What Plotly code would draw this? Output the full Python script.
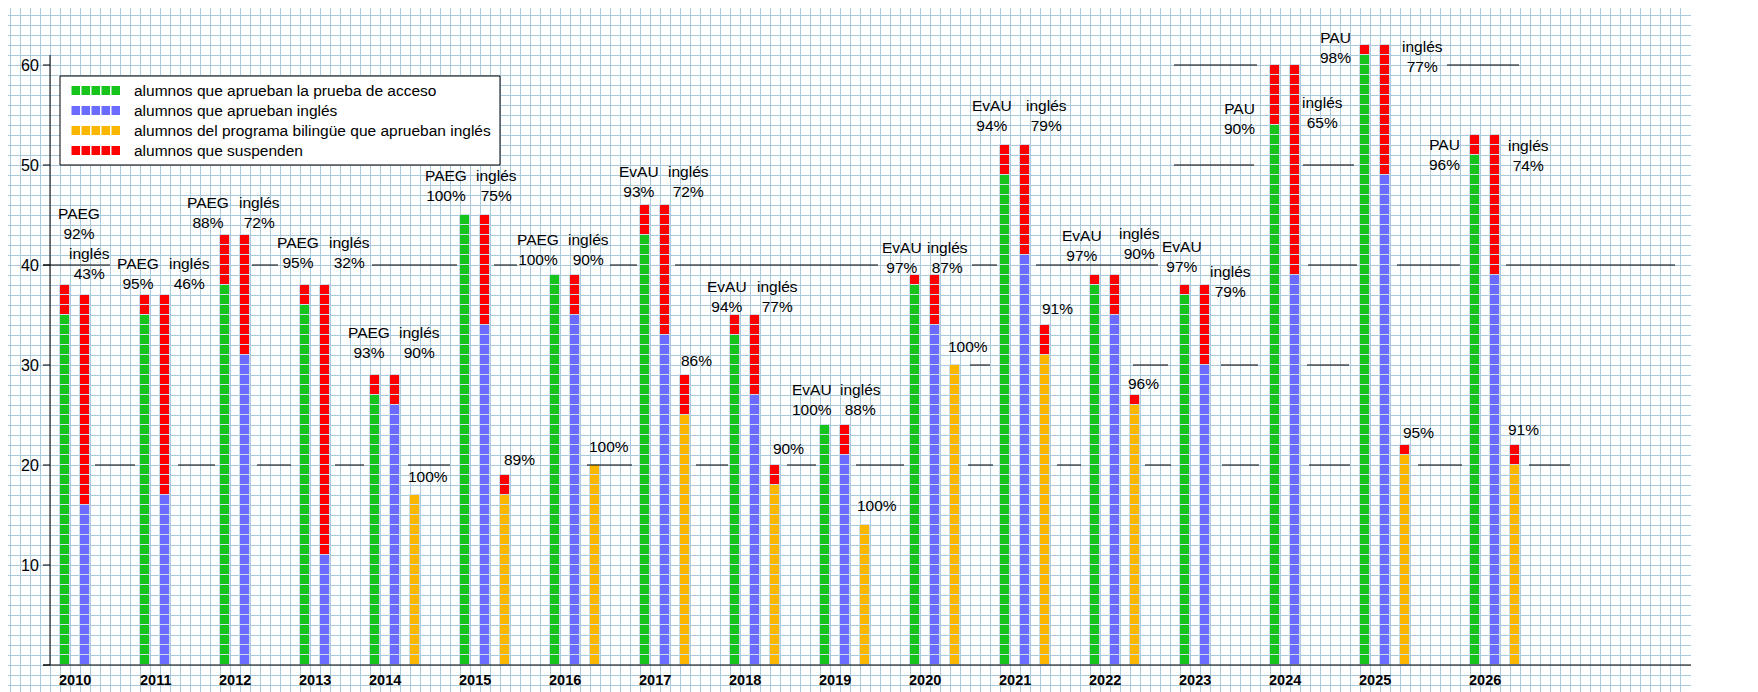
import plotly.graph_objects as go

# --- data (one unit = one student) ---
years = list(range(2010, 2027))
exam_names = ["PAEG"] * 7 + ["EvAU"] * 7 + ["PAU"] * 3
presented = [38, 37, 43, 38, 29, 45, 39, 46, 35, 24, 39, 52, 39, 38, 60, 62, 53]
pass_exam = [35, 35, 38, 36, 27, 45, 39, 43, 33, 24, 38, 49, 38, 37, 54, 61, 51]
english_presented = [37, 37, 43, 38, 29, 45, 39, 46, 35, 24, 39, 52, 39, 38, 60, 62, 53]
pass_english = [16, 17, 31, 11, 26, 34, 35, 33, 27, 21, 34, 41, 35, 30, 39, 49, 39]
bilingual_presented = [None, None, None, None, 17, 19, 20, 29, 20, 14, 30, 34, 27, None, None, 22, 22]
bilingual_pass = [None, None, None, None, 17, 17, 20, 25, 18, 14, 30, 31, 26, None, None, 21, 20]
exam_pct = [92, 95, 88, 95, 93, 100, 100, 93, 94, 100, 97, 94, 97, 97, 90, 98, 96]
english_pct = [43, 46, 72, 32, 90, 75, 90, 72, 77, 88, 87, 79, 90, 79, 65, 77, 74]
bilingual_pct = [None, None, None, None, 100, 89, 100, 86, 90, 100, 100, 91, 96, None, None, 95, 91]
y_ticks = [0, 10, 20, 30, 40, 50, 60]

legend_names = [
    "alumnos que aprueban la prueba de acceso",
    "alumnos que aprueban inglés",
    "alumnos del programa bilingüe que aprueban inglés",
    "alumnos que suspenden",
]

# --- layout (grid units, 1 unit = one square of the paper) ---
GREEN, BLUE, YELLOW, RED = "#17c41c", "#6b6bff", "#fbb700", "#ff0000"
GRID = "#abc9dc"
CELL_EDGE = "#c9dce8"
FONT = "Arial, Liberation Sans, sans-serif"

group_left = [6, 14, 22, 30, 37, 46, 55, 64, 73, 82, 91, 100, 109, 118, 127, 136, 147]

exam_label_pos = [(7.85, 44.2), (13.83, 39.2), (20.83, 45.25), (29.77, 41.25), (36.85, 32.25),
                  (44.55, 47.95), (53.77, 41.6), (63.87, 48.4), (72.7, 36.9), (81.17, 26.6),
                  (90.2, 40.8), (99.2, 55.0), (108.2, 42.0), (118.2, 40.9), (123.9, 54.65),
                  (133.5, 61.75), (144.4, 51.1)]
english_label_pos = [(8.93, 40.2), (18.9, 39.2), (25.93, 45.25), (34.9, 41.25), (41.93, 32.25),
                     (49.63, 47.95), (58.8, 41.6), (68.83, 48.4), (77.7, 36.9), (86.0, 26.6),
                     (94.7, 40.8), (104.6, 55.0), (113.9, 42.2), (123.0, 38.4), (132.2, 55.3),
                     (142.2, 60.9), (152.8, 50.95)]
bilingual_label_pos = [None, None, None, None, (42.83, 18.9), (51.9, 20.57), (60.87, 21.9),
                       (69.67, 30.5), (78.83, 21.7), (87.67, 16.0), (96.8, 31.9), (105.7, 35.7),
                       (114.3, 28.2), None, None, (141.8, 23.3), (152.3, 23.6)]

# black guide strokes drawn on the paper at some levels
guides = {
    20: [(9.5, 13.5), (17.8, 21.5), (25.7, 29.1), (33.5, 36.4), (40.8, 45.0), (58.7, 63.2),
         (69.6, 72.8), (78.7, 81.6), (85.6, 90.4), (96.8, 99.3), (105.7, 108.1), (114.5, 117.1),
         (122.2, 125.9), (130.9, 135.0), (141.8, 146.2), (152.9, 157.0)],
    30: [(97.0, 99.0), (113.3, 116.8), (122.1, 125.8), (130.7, 134.9)],
    40: [(4.3, 11.0), (25.2, 27.8), (37.2, 45.7), (49.4, 51.7), (61.0, 63.7), (67.5, 87.8),
         (97.2, 99.7), (103.6, 115.8), (130.8, 135.7), (139.7, 146.0), (150.6, 167.5)],
    50: [(117.4, 125.4), (130.3, 135.4)],
    60: [(117.4, 125.7), (144.7, 151.9)],
}


def cells(xc, start, stop, xs, bases):
    for k in range(start, stop):
        xs.append(xc)
        bases.append(k)


series = {GREEN: ([], []), BLUE: ([], []), YELLOW: ([], []), RED: ([], [])}
for i in range(len(years)):
    left = group_left[i]
    cells(left + 0.5, 0, pass_exam[i], *series[GREEN])
    cells(left + 0.5, pass_exam[i], presented[i], *series[RED])
    cells(left + 2.5, 0, pass_english[i], *series[BLUE])
    cells(left + 2.5, pass_english[i], english_presented[i], *series[RED])
    if bilingual_presented[i] is not None:
        cells(left + 4.5, 0, bilingual_pass[i], *series[YELLOW])
        cells(left + 4.5, bilingual_pass[i], bilingual_presented[i], *series[RED])

fig = go.Figure()
for color, (xs, bases) in series.items():
    fig.add_trace(go.Bar(
        x=xs, y=[1] * len(xs), base=bases, width=1,
        marker=dict(color=color, line=dict(color=CELL_EDGE, width=1)),
        hoverinfo="skip", showlegend=False,
    ))

shapes = []
# axes
shapes.append(dict(type="line", x0=5.0, x1=5.0, y0=0, y1=61, line=dict(color="black", width=1)))
shapes.append(dict(type="line", x0=4.3, x1=169.4, y0=0, y1=0, line=dict(color="black", width=1)))
for t in y_ticks:
    shapes.append(dict(type="line", x0=4.3, x1=5.0, y0=t, y1=t, line=dict(color="black", width=1)))
for level, segs in guides.items():
    for x0, x1 in segs:
        shapes.append(dict(type="line", x0=x0, x1=x1, y0=level, y1=level,
                           line=dict(color="black", width=1)))

# hand-drawn legend box
shapes.append(dict(type="rect", x0=6.0, x1=50.0, y0=50.0, y1=58.9,
                   fillcolor="white", line=dict(color="black", width=1)))
legend_rows = [57.45, 55.45, 53.45, 51.45]
for row_y, color in zip(legend_rows, [GREEN, BLUE, YELLOW, RED]):
    for k in range(5):
        shapes.append(dict(type="rect", x0=7.15 + k, x1=8.0 + k, y0=row_y - 0.45, y1=row_y + 0.45,
                           fillcolor=color, line=dict(width=0)))
for s in shapes:
    s.setdefault("layer", "above")
    s["xref"], s["yref"] = "x", "y"

annotations = []
for row_y, name in zip(legend_rows, legend_names):
    annotations.append(dict(x=13.2, y=row_y, text=name, xanchor="left", yanchor="middle",
                            font=dict(size=15.5)))
for t in y_ticks[1:]:
    annotations.append(dict(x=4.05, y=t, text=str(t), xanchor="right", yanchor="middle",
                            font=dict(size=16)))
for i, year in enumerate(years):
    annotations.append(dict(x=group_left[i] + 1.5, y=-1.45, text="<b>%d</b>" % year,
                            xanchor="center", yanchor="middle", font=dict(size=14.5)))
    x, y = exam_label_pos[i]
    annotations.append(dict(x=x, y=y, text="%s<br>%d%%" % (exam_names[i], exam_pct[i]),
                            xanchor="center", yanchor="middle", font=dict(size=15.5)))
    x, y = english_label_pos[i]
    annotations.append(dict(x=x, y=y, text="inglés<br>%d%%" % english_pct[i],
                            xanchor="center", yanchor="middle", font=dict(size=15.5)))
    if bilingual_label_pos[i] is not None:
        x, y = bilingual_label_pos[i]
        annotations.append(dict(x=x, y=y, text="%d%%" % bilingual_pct[i],
                                xanchor="center", yanchor="middle", font=dict(size=15.5)))
for a in annotations:
    a["showarrow"] = False
    a["xref"], a["yref"] = "x", "y"

# the page keeps an 8px body margin, so the figure is sized and ranged to sit flush with it
fig.update_layout(
    width=1750, height=684, autosize=False,
    margin=dict(l=0, r=67, t=0, b=0, pad=0),
    paper_bgcolor="white", plot_bgcolor="white",
    barmode="overlay", bargap=0,
    font=dict(family=FONT, color="black"),
    showlegend=False,
    shapes=shapes, annotations=annotations,
    xaxis=dict(range=[0.8, 169.1], showgrid=True, gridcolor=GRID, gridwidth=1,
               tick0=0, dtick=1, showticklabels=False, ticks="", zeroline=False,
               showline=False, fixedrange=True),
    yaxis=dict(range=[-2.7, 65.7], showgrid=True, gridcolor=GRID, gridwidth=1,
               tick0=0, dtick=1, showticklabels=False, ticks="", zeroline=False,
               showline=False, fixedrange=True),
)

fig.write_html("out.html")
